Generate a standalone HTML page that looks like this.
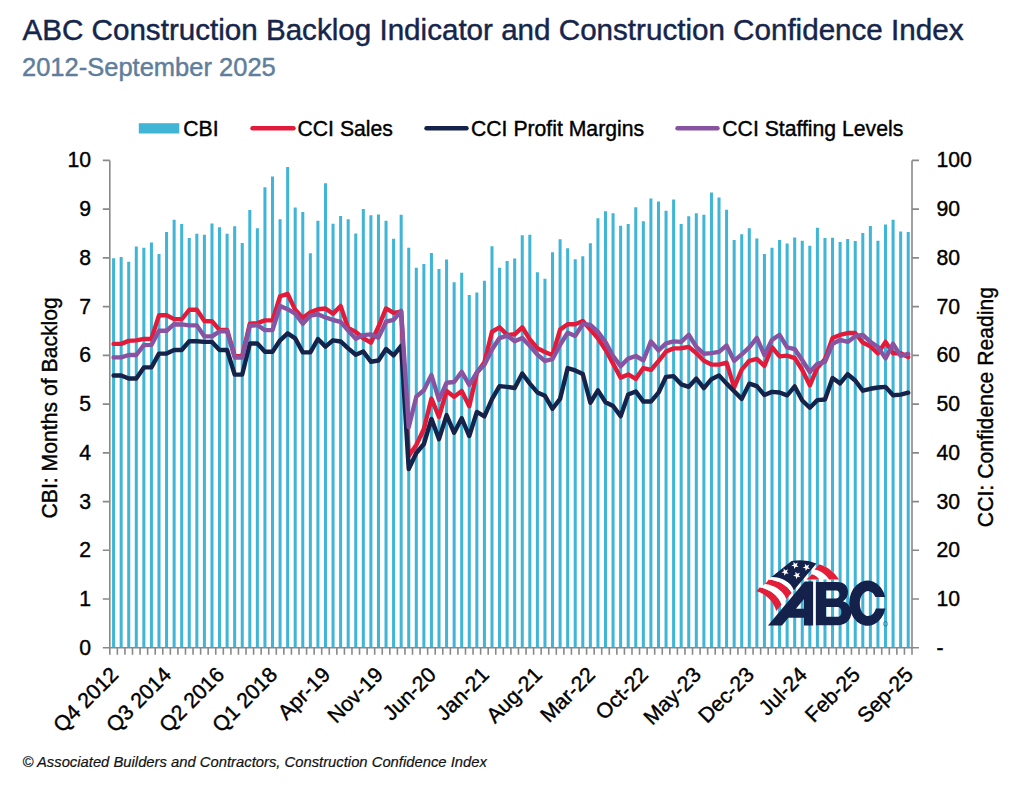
<!DOCTYPE html><html><head><meta charset="utf-8"><style>html,body{margin:0;padding:0;background:#fff;}svg{display:block;}text{font-family:"Liberation Sans",sans-serif;paint-order:stroke;stroke-linejoin:round;}</style></head><body>
<svg width="1024" height="791" viewBox="0 0 1024 791">
<rect width="1024" height="791" fill="#fff"/>
<text x="22.5" y="40" font-size="29.6" fill="#15254B" stroke="#15254B" stroke-width="0.45">ABC Construction Backlog Indicator and Construction Confidence Index</text>
<text x="22" y="75.7" font-size="25.5" fill="#5F7E9C" stroke="#5F7E9C" stroke-width="0.45">2012-September 2025</text>
<rect x="138.8" y="123.2" width="40.5" height="10.3" fill="#40B5D6"/>
<text x="183.3" y="136.1" font-size="21.2" fill="#000" stroke="#000" stroke-width="0.4">CBI</text>
<line x1="252.5" y1="128.3" x2="293.5" y2="128.3" stroke="#E31B3B" stroke-width="4.4" stroke-linecap="round"/>
<text x="297.5" y="136.1" font-size="21.2" fill="#000" stroke="#000" stroke-width="0.4">CCI Sales</text>
<line x1="426.5" y1="128.3" x2="466.5" y2="128.3" stroke="#15234A" stroke-width="4.4" stroke-linecap="round"/>
<text x="471" y="136.1" font-size="21.2" fill="#000" stroke="#000" stroke-width="0.4">CCI Profit Margins</text>
<line x1="677.5" y1="128.3" x2="717.5" y2="128.3" stroke="#8853A1" stroke-width="4.4" stroke-linecap="round"/>
<text x="722.3" y="136.1" font-size="21.2" fill="#000" stroke="#000" stroke-width="0.4">CCI Staffing Levels</text>
<path d="M112.07 258.19h3.03V647.8h-3.03ZM119.64 257.02h3.03V647.8h-3.03ZM127.21 261.69h3.03V647.8h-3.03ZM134.77 246.5h3.03V647.8h-3.03ZM142.34 247.67h3.03V647.8h-3.03ZM149.91 242.61h3.03V647.8h-3.03ZM157.48 253.9h3.03V647.8h-3.03ZM165.05 231.9h3.03V647.8h-3.03ZM172.61 219.64h3.03V647.8h-3.03ZM180.18 224.12h3.03V647.8h-3.03ZM187.75 237.94h3.03V647.8h-3.03ZM195.32 233.85h3.03V647.8h-3.03ZM202.89 234.82h3.03V647.8h-3.03ZM210.45 223.53h3.03V647.8h-3.03ZM218.02 227.23h3.03V647.8h-3.03ZM225.59 233.85h3.03V647.8h-3.03ZM233.16 226.26h3.03V647.8h-3.03ZM240.73 243h3.03V647.8h-3.03ZM248.29 210.1h3.03V647.8h-3.03ZM255.86 228.2h3.03V647.8h-3.03ZM263.43 187.32h3.03V647.8h-3.03ZM271 176.61h3.03V647.8h-3.03ZM278.56 219.25h3.03V647.8h-3.03ZM286.13 167.07h3.03V647.8h-3.03ZM293.7 207.57h3.03V647.8h-3.03ZM301.27 212.04h3.03V647.8h-3.03ZM308.84 253.32h3.03V647.8h-3.03ZM316.4 220.81h3.03V647.8h-3.03ZM323.97 183.23h3.03V647.8h-3.03ZM331.54 223.73h3.03V647.8h-3.03ZM339.11 215.94h3.03V647.8h-3.03ZM346.68 219.25h3.03V647.8h-3.03ZM354.24 233.46h3.03V647.8h-3.03ZM361.81 209.12h3.03V647.8h-3.03ZM369.38 215.35h3.03V647.8h-3.03ZM376.95 214.38h3.03V647.8h-3.03ZM384.52 220.81h3.03V647.8h-3.03ZM392.08 238.72h3.03V647.8h-3.03ZM399.65 214.77h3.03V647.8h-3.03ZM407.22 247.87h3.03V647.8h-3.03ZM414.79 267.7h3.03V647.8h-3.03ZM422.36 264.06h3.03V647.8h-3.03ZM429.92 252.93h3.03V647.8h-3.03ZM437.49 269.12h3.03V647.8h-3.03ZM445.06 259.41h3.03V647.8h-3.03ZM452.63 282.26h3.03V647.8h-3.03ZM460.19 272.76h3.03V647.8h-3.03ZM467.76 295.01h3.03V647.8h-3.03ZM475.33 292.38h3.03V647.8h-3.03ZM482.9 280.85h3.03V647.8h-3.03ZM490.47 246.26h3.03V647.8h-3.03ZM498.03 267.7h3.03V647.8h-3.03ZM505.6 261.02h3.03V647.8h-3.03ZM513.17 258.39h3.03V647.8h-3.03ZM520.74 235.13h3.03V647.8h-3.03ZM528.31 234.73h3.03V647.8h-3.03ZM535.87 272.15h3.03V647.8h-3.03ZM543.44 278.82h3.03V647.8h-3.03ZM551.01 252.33h3.03V647.8h-3.03ZM558.58 239.18h3.03V647.8h-3.03ZM566.15 248.16h3.03V647.8h-3.03ZM573.71 259.17h3.03V647.8h-3.03ZM581.28 256.14h3.03V647.8h-3.03ZM588.85 243.19h3.03V647.8h-3.03ZM596.42 218.31h3.03V647.8h-3.03ZM603.99 211.23h3.03V647.8h-3.03ZM611.55 213.26h3.03V647.8h-3.03ZM619.12 225.8h3.03V647.8h-3.03ZM626.69 223.98h3.03V647.8h-3.03ZM634.26 207.19h3.03V647.8h-3.03ZM641.83 221.14h3.03V647.8h-3.03ZM649.39 198.49h3.03V647.8h-3.03ZM656.96 201.52h3.03V647.8h-3.03ZM664.53 210.63h3.03V647.8h-3.03ZM672.1 199.5h3.03V647.8h-3.03ZM679.66 223.98h3.03V647.8h-3.03ZM687.23 216.29h3.03V647.8h-3.03ZM694.8 213.26h3.03V647.8h-3.03ZM702.37 214.87h3.03V647.8h-3.03ZM709.94 192.42h3.03V647.8h-3.03ZM717.5 197.48h3.03V647.8h-3.03ZM725.07 209.74h3.03V647.8h-3.03ZM732.64 239.96h3.03V647.8h-3.03ZM740.21 234.37h3.03V647.8h-3.03ZM747.78 228.3h3.03V647.8h-3.03ZM755.34 238.5h3.03V647.8h-3.03ZM762.91 254.03h3.03V647.8h-3.03ZM770.48 247.72h3.03V647.8h-3.03ZM778.05 239.96h3.03V647.8h-3.03ZM785.62 243.6h3.03V647.8h-3.03ZM793.18 237.53h3.03V647.8h-3.03ZM800.75 240.68h3.03V647.8h-3.03ZM808.32 245.78h3.03V647.8h-3.03ZM815.89 227.82h3.03V647.8h-3.03ZM823.46 238.01h3.03V647.8h-3.03ZM831.02 237.77h3.03V647.8h-3.03ZM838.59 241.9h3.03V647.8h-3.03ZM846.16 238.98h3.03V647.8h-3.03ZM853.73 240.93h3.03V647.8h-3.03ZM861.29 232.92h3.03V647.8h-3.03ZM868.86 225.88h3.03V647.8h-3.03ZM876.43 240.68h3.03V647.8h-3.03ZM884 224.42h3.03V647.8h-3.03ZM891.57 219.81h3.03V647.8h-3.03ZM899.13 231.46h3.03V647.8h-3.03ZM906.7 231.95h3.03V647.8h-3.03Z" fill="#40B5D6"/>
<path d="M109.8 160.4V647.8M912.0 160.4V647.8M102.8 647.8H919.0M102.8 647.8H109.8M912.0 647.8H919.0M102.8 599.06H109.8M912.0 599.06H919.0M102.8 550.32H109.8M912.0 550.32H919.0M102.8 501.58H109.8M912.0 501.58H919.0M102.8 452.84H109.8M912.0 452.84H919.0M102.8 404.1H109.8M912.0 404.1H919.0M102.8 355.36H109.8M912.0 355.36H919.0M102.8 306.62H109.8M912.0 306.62H919.0M102.8 257.88H109.8M912.0 257.88H919.0M102.8 209.14H109.8M912.0 209.14H919.0M102.8 160.4H109.8M912.0 160.4H919.0M109.8 647.8V654.8M117.37 647.8V654.8M124.94 647.8V654.8M132.5 647.8V654.8M140.07 647.8V654.8M147.64 647.8V654.8M155.21 647.8V654.8M162.78 647.8V654.8M170.34 647.8V654.8M177.91 647.8V654.8M185.48 647.8V654.8M193.05 647.8V654.8M200.62 647.8V654.8M208.18 647.8V654.8M215.75 647.8V654.8M223.32 647.8V654.8M230.89 647.8V654.8M238.45 647.8V654.8M246.02 647.8V654.8M253.59 647.8V654.8M261.16 647.8V654.8M268.73 647.8V654.8M276.29 647.8V654.8M283.86 647.8V654.8M291.43 647.8V654.8M299 647.8V654.8M306.57 647.8V654.8M314.13 647.8V654.8M321.7 647.8V654.8M329.27 647.8V654.8M336.84 647.8V654.8M344.41 647.8V654.8M351.97 647.8V654.8M359.54 647.8V654.8M367.11 647.8V654.8M374.68 647.8V654.8M382.25 647.8V654.8M389.81 647.8V654.8M397.38 647.8V654.8M404.95 647.8V654.8M412.52 647.8V654.8M420.08 647.8V654.8M427.65 647.8V654.8M435.22 647.8V654.8M442.79 647.8V654.8M450.36 647.8V654.8M457.92 647.8V654.8M465.49 647.8V654.8M473.06 647.8V654.8M480.63 647.8V654.8M488.2 647.8V654.8M495.76 647.8V654.8M503.33 647.8V654.8M510.9 647.8V654.8M518.47 647.8V654.8M526.04 647.8V654.8M533.6 647.8V654.8M541.17 647.8V654.8M548.74 647.8V654.8M556.31 647.8V654.8M563.88 647.8V654.8M571.44 647.8V654.8M579.01 647.8V654.8M586.58 647.8V654.8M594.15 647.8V654.8M601.72 647.8V654.8M609.28 647.8V654.8M616.85 647.8V654.8M624.42 647.8V654.8M631.99 647.8V654.8M639.55 647.8V654.8M647.12 647.8V654.8M654.69 647.8V654.8M662.26 647.8V654.8M669.83 647.8V654.8M677.39 647.8V654.8M684.96 647.8V654.8M692.53 647.8V654.8M700.1 647.8V654.8M707.67 647.8V654.8M715.23 647.8V654.8M722.8 647.8V654.8M730.37 647.8V654.8M737.94 647.8V654.8M745.51 647.8V654.8M753.07 647.8V654.8M760.64 647.8V654.8M768.21 647.8V654.8M775.78 647.8V654.8M783.35 647.8V654.8M790.91 647.8V654.8M798.48 647.8V654.8M806.05 647.8V654.8M813.62 647.8V654.8M821.18 647.8V654.8M828.75 647.8V654.8M836.32 647.8V654.8M843.89 647.8V654.8M851.46 647.8V654.8M859.02 647.8V654.8M866.59 647.8V654.8M874.16 647.8V654.8M881.73 647.8V654.8M889.3 647.8V654.8M896.86 647.8V654.8M904.43 647.8V654.8M912 647.8V654.8" stroke="#898989" stroke-width="1.6" fill="none"/>
<text x="91" y="654.8" font-size="21.2" text-anchor="end" fill="#000" stroke="#000" stroke-width="0.4">0</text>
<text x="936.5" y="654.8" font-size="21.2" fill="#000" stroke="#000" stroke-width="0.4">-</text>
<text x="91" y="606.06" font-size="21.2" text-anchor="end" fill="#000" stroke="#000" stroke-width="0.4">1</text>
<text x="936.5" y="606.06" font-size="21.2" fill="#000" stroke="#000" stroke-width="0.4">10</text>
<text x="91" y="557.32" font-size="21.2" text-anchor="end" fill="#000" stroke="#000" stroke-width="0.4">2</text>
<text x="936.5" y="557.32" font-size="21.2" fill="#000" stroke="#000" stroke-width="0.4">20</text>
<text x="91" y="508.58" font-size="21.2" text-anchor="end" fill="#000" stroke="#000" stroke-width="0.4">3</text>
<text x="936.5" y="508.58" font-size="21.2" fill="#000" stroke="#000" stroke-width="0.4">30</text>
<text x="91" y="459.84" font-size="21.2" text-anchor="end" fill="#000" stroke="#000" stroke-width="0.4">4</text>
<text x="936.5" y="459.84" font-size="21.2" fill="#000" stroke="#000" stroke-width="0.4">40</text>
<text x="91" y="411.1" font-size="21.2" text-anchor="end" fill="#000" stroke="#000" stroke-width="0.4">5</text>
<text x="936.5" y="411.1" font-size="21.2" fill="#000" stroke="#000" stroke-width="0.4">50</text>
<text x="91" y="362.36" font-size="21.2" text-anchor="end" fill="#000" stroke="#000" stroke-width="0.4">6</text>
<text x="936.5" y="362.36" font-size="21.2" fill="#000" stroke="#000" stroke-width="0.4">60</text>
<text x="91" y="313.62" font-size="21.2" text-anchor="end" fill="#000" stroke="#000" stroke-width="0.4">7</text>
<text x="936.5" y="313.62" font-size="21.2" fill="#000" stroke="#000" stroke-width="0.4">70</text>
<text x="91" y="264.88" font-size="21.2" text-anchor="end" fill="#000" stroke="#000" stroke-width="0.4">8</text>
<text x="936.5" y="264.88" font-size="21.2" fill="#000" stroke="#000" stroke-width="0.4">80</text>
<text x="91" y="216.14" font-size="21.2" text-anchor="end" fill="#000" stroke="#000" stroke-width="0.4">9</text>
<text x="936.5" y="216.14" font-size="21.2" fill="#000" stroke="#000" stroke-width="0.4">90</text>
<text x="91" y="167.4" font-size="21.2" text-anchor="end" fill="#000" stroke="#000" stroke-width="0.4">10</text>
<text x="936.5" y="167.4" font-size="21.2" fill="#000" stroke="#000" stroke-width="0.4">100</text>
<text transform="translate(57,407.8) rotate(-90)" font-size="21.2" text-anchor="middle" fill="#000" stroke="#000" stroke-width="0.4">CBI: Months of Backlog</text>
<text transform="translate(993,407) rotate(-90)" font-size="21.2" text-anchor="middle" fill="#000" stroke="#000" stroke-width="0.4">CCI: Confidence Reading</text>
<text transform="translate(119.58,676) rotate(-45)" font-size="21.2" text-anchor="end" fill="#000" stroke="#000" stroke-width="0.4">Q4 2012</text>
<text transform="translate(172.56,676) rotate(-45)" font-size="21.2" text-anchor="end" fill="#000" stroke="#000" stroke-width="0.4">Q3 2014</text>
<text transform="translate(225.53,676) rotate(-45)" font-size="21.2" text-anchor="end" fill="#000" stroke="#000" stroke-width="0.4">Q2 2016</text>
<text transform="translate(278.51,676) rotate(-45)" font-size="21.2" text-anchor="end" fill="#000" stroke="#000" stroke-width="0.4">Q1 2018</text>
<text transform="translate(331.49,676) rotate(-45)" font-size="21.2" text-anchor="end" fill="#000" stroke="#000" stroke-width="0.4">Apr-19</text>
<text transform="translate(384.46,676) rotate(-45)" font-size="21.2" text-anchor="end" fill="#000" stroke="#000" stroke-width="0.4">Nov-19</text>
<text transform="translate(437.44,676) rotate(-45)" font-size="21.2" text-anchor="end" fill="#000" stroke="#000" stroke-width="0.4">Jun-20</text>
<text transform="translate(490.41,676) rotate(-45)" font-size="21.2" text-anchor="end" fill="#000" stroke="#000" stroke-width="0.4">Jan-21</text>
<text transform="translate(543.39,676) rotate(-45)" font-size="21.2" text-anchor="end" fill="#000" stroke="#000" stroke-width="0.4">Aug-21</text>
<text transform="translate(596.36,676) rotate(-45)" font-size="21.2" text-anchor="end" fill="#000" stroke="#000" stroke-width="0.4">Mar-22</text>
<text transform="translate(649.34,676) rotate(-45)" font-size="21.2" text-anchor="end" fill="#000" stroke="#000" stroke-width="0.4">Oct-22</text>
<text transform="translate(702.31,676) rotate(-45)" font-size="21.2" text-anchor="end" fill="#000" stroke="#000" stroke-width="0.4">May-23</text>
<text transform="translate(755.29,676) rotate(-45)" font-size="21.2" text-anchor="end" fill="#000" stroke="#000" stroke-width="0.4">Dec-23</text>
<text transform="translate(808.27,676) rotate(-45)" font-size="21.2" text-anchor="end" fill="#000" stroke="#000" stroke-width="0.4">Jul-24</text>
<text transform="translate(861.24,676) rotate(-45)" font-size="21.2" text-anchor="end" fill="#000" stroke="#000" stroke-width="0.4">Feb-25</text>
<text transform="translate(914.22,676) rotate(-45)" font-size="21.2" text-anchor="end" fill="#000" stroke="#000" stroke-width="0.4">Sep-25</text>
<polyline points="113.58,343.89 121.15,343.89 128.72,340.91 136.29,340.34 143.86,338.95 151.42,338.69 158.99,315.32 166.56,315.32 174.13,319.12 181.7,319.25 189.26,309.76 196.83,309.76 204.4,320.93 211.97,321.18 219.53,329.94 227.1,329.94 234.67,356.17 242.24,356.17 249.81,323.8 257.37,323.16 264.94,320.37 272.51,320.37 280.08,296.25 287.65,293.96 295.21,309.83 302.78,318.09 310.35,312.37 317.92,309.2 325.49,308.56 333.05,313.64 340.62,305.95 348.19,328.09 355.76,331.89 363.33,338.24 370.89,342.69 378.46,326.82 386.03,308.41 393.6,312.85 401.17,311.58 408.73,456 416.3,445 423.87,429 431.44,398.56 439,416.97 446.57,390.95 454.14,396.66 461.71,390.95 469.28,406.18 476.84,373 484.41,362.21 491.98,331.74 499.55,327.29 507.12,334.91 514.68,334.28 522.25,327.29 529.82,339.36 537.39,348.24 544.96,352.05 552.52,355.22 560.09,329.59 567.66,324.2 575.23,324.2 582.8,321.03 590.36,329.59 597.93,338.24 605.5,349.67 613.07,363.63 620.63,377.6 628.2,374.42 635.77,378.87 643.34,368.08 650.91,369.98 658.47,361.09 666.04,351.57 673.61,348.4 681.18,348.24 688.75,346.82 696.31,353.16 703.88,360.78 711.45,364.59 719.02,364.59 726.59,362.69 734.15,387.44 741.72,369.67 749.29,360.78 756.86,358.88 764.43,365.86 771.99,347.26 779.56,356.32 787.13,355.63 794.7,358.03 802.27,370 809.83,385.33 817.4,367.68 824.97,359.32 832.54,338.09 840.1,334.91 847.67,333.01 855.24,333.01 862.81,342.53 870.38,346.34 877.94,353.32 885.51,341.89 893.08,353.32 900.65,353.32 908.22,357.13" fill="none" stroke="#E31B3B" stroke-width="4.4" stroke-linejoin="round" stroke-linecap="round"/>
<polyline points="113.58,375.43 121.15,375.43 128.72,378.54 136.29,378.54 143.86,367.39 151.42,367.39 158.99,353.58 166.56,353.58 174.13,349.97 181.7,349.97 189.26,341.24 196.83,341.24 204.4,341.88 211.97,341.88 219.53,349.98 227.1,349.98 234.67,374.54 242.24,374.58 249.81,343.48 257.37,343.48 264.94,351.73 272.51,351.73 280.08,340.3 287.65,333.32 295.21,338.4 302.78,352.36 310.35,352.36 317.92,339.03 325.49,346.65 333.05,340.3 340.62,341.49 348.19,348.4 355.76,354.75 363.33,351.57 370.89,361.73 378.46,360.46 386.03,349.03 393.6,355.38 401.17,345.86 408.73,469 416.3,453 423.87,444 431.44,418.88 439,439.19 446.57,415.07 454.14,432.84 461.71,418.24 469.28,436.02 476.84,411.89 484.41,416.34 491.98,399.2 499.55,386.1 507.12,386.87 514.68,388.02 522.25,373.5 529.82,383.64 537.39,392.38 544.96,395.8 552.52,408.77 560.09,398.85 567.66,368.1 575.23,370.42 582.8,373.97 590.36,402.77 597.93,390.36 605.5,402.21 613.07,406.02 620.63,416.17 628.2,394.59 635.77,391.42 643.34,401.57 650.91,401.57 658.47,392.69 666.04,376.82 673.61,376.18 681.18,384.35 688.75,386.81 696.31,378.55 703.88,388.08 711.45,379.19 719.02,375.38 726.59,383.63 734.15,391.25 741.72,398.87 749.29,383.63 756.86,386.17 764.43,395.06 771.99,391.89 779.56,392.46 787.13,395.34 794.7,386.42 802.27,400.46 809.83,407.76 817.4,400.15 824.97,399.51 832.54,378 840.1,383.4 847.67,374.19 855.24,380.54 862.81,390.7 870.38,388.79 877.94,387.52 885.51,386.89 893.08,395.21 900.65,394.58 908.22,392.68" fill="none" stroke="#15234A" stroke-width="4.4" stroke-linejoin="round" stroke-linecap="round"/>
<polyline points="113.58,357.4 121.15,357.4 128.72,354.97 136.29,354.97 143.86,345.09 151.42,344.84 158.99,330.78 166.56,330.78 174.13,324.19 181.7,324.44 189.26,325.37 196.83,325.37 204.4,336.42 211.97,336.42 219.53,331.38 227.1,331.06 234.67,357.44 242.24,357.44 249.81,325.7 257.37,325.07 264.94,330.15 272.51,330.15 280.08,306.03 287.65,309.2 295.21,313.64 302.78,323.8 310.35,315.55 317.92,314.28 325.49,317.45 333.05,319.99 340.62,321.82 348.19,330.62 355.76,338.88 363.33,335.07 370.89,334.43 378.46,337.61 386.03,321.74 393.6,319.83 401.17,310.95 408.73,427.13 416.3,396.66 423.87,390.31 431.44,375.08 439,399.83 446.57,382.7 454.14,382.06 461.71,371.9 469.28,384.83 476.84,372.36 484.41,364.75 491.98,349.51 499.55,338.09 507.12,335.55 514.68,341.26 522.25,338.09 529.82,345.7 537.39,354.59 544.96,360.94 552.52,359.03 560.09,344.83 567.66,332.77 575.23,335.94 582.8,323.88 590.36,324.83 597.93,331.89 605.5,342.05 613.07,356.02 620.63,366.17 628.2,358.55 635.77,356.02 643.34,360.46 650.91,341.42 658.47,350.3 666.04,343.32 673.61,341.42 681.18,341.89 688.75,334.76 696.31,346.82 703.88,353.8 711.45,353.16 719.02,351.89 726.59,345.55 734.15,360.78 741.72,354.43 749.29,347.45 756.86,337.93 764.43,355.07 771.99,339.83 779.56,334.76 787.13,347.39 794.7,349.1 802.27,360.31 809.83,371.93 817.4,363.87 824.97,361.97 832.54,343.8 840.1,339.99 847.67,341.89 855.24,336.18 862.81,334.91 870.38,341.89 877.94,346.97 885.51,358.4 893.08,343.8 900.65,355.86 908.22,353.96" fill="none" stroke="#8853A1" stroke-width="4.4" stroke-linejoin="round" stroke-linecap="round"/>
<path d="M767.97,625.39 L804.77,581.38 L813.11,581.38 L813.11,625.39 L804.0,625.39 L804.0,617.8 L788.4,617.8 L782.0,625.39 Z M795.96,608.69 L804.0,599.06 L804.0,608.69 Z M815.9,582 L837,582 C845,582 848,587 848,591.8 C848,596 846,599.5 843,601.2 C848.5,603 851.3,607.5 851.3,612.5 C851.3,620 845.5,625.2 837.5,625.2 L815.9,625.2 Z M826,590.6 L836,590.6 C838.5,590.6 839.6,592.4 839.6,594.5 C839.6,596.6 838.5,598.4 836,598.4 L826,598.4 Z M826,607 L837.5,607 C840.2,607 841.3,609.5 841.3,611.9 C841.3,614.4 840.2,616.8 837.5,616.8 L826,616.8 Z" fill="#13214B" fill-rule="evenodd"/><path d="M885.2,596.9 A18.4,22.6 0 1 0 885.4,608.6 L875.9,608.6 A8.4,12.5 0 1 1 875.3,596.9 Z" fill="#13214B"/><circle cx="885.5" cy="623.8" r="2.2" fill="none" stroke="#13214B" stroke-width="0.6" opacity="0.7"/><g transform="translate(752,556) scale(0.087889)"><path d="M50,401 C143,425 240,500 276.5,624.5 L337,553 C300,440 180,368 89.2,355.7 Z" fill="#E41E38"/><path d="M89.2,355.7 C180,368 300,440 337,553 L391.3,489 C350,390 250,330 149.6,319.4 Z" fill="#fff"/><path d="M149.6,319.4 C250,330 350,390 391.3,489 L451.7,418 C400,330 300,280 192,268 Z" fill="#E41E38"/><path d="M192,268 C300,280 400,330 451.7,418 L476,389 C440,290 330,236 222.2,237.8 Z" fill="#fff"/><path d="M222.2,237.8 C330,236 440,290 476,389 L733,85 Q600,30 450,58 Z" fill="#13214B"/><polygon points="471.4,65.1 493.5,86.9 522.2,75.0 508.3,102.7 528.5,126.3 497.8,121.7 481.6,148.2 476.5,117.6 446.3,110.4 473.8,96.0" fill="#fff"/><polygon points="601.4,88.1 623.5,109.9 652.2,98.0 638.3,125.7 658.5,149.3 627.8,144.7 611.6,171.2 606.5,140.6 576.3,133.4 603.8,119.0" fill="#fff"/><polygon points="359.4,142.1 381.5,163.9 410.2,152.0 396.3,179.7 416.5,203.3 385.8,198.7 369.6,225.2 364.5,194.6 334.3,187.4 361.8,173.0" fill="#fff"/><polygon points="493.4,180.1 515.5,201.9 544.2,190.0 530.3,217.7 550.5,241.3 519.8,236.7 503.6,263.2 498.5,232.6 468.3,225.4 495.8,211.0" fill="#fff"/><path d="M619.4,268 L761.2,94.4 C829.7,109.1 927.5,167.7 991.1,268 Z" fill="#fff"/><path d="M712.3,153.1 L761.2,94.4 C829.7,109.1 927.5,167.7 991.1,268 L878.6,268 C839.5,206.9 780.8,167.7 712.3,153.1 Z" fill="#E41E38"/><path d="M619.4,268 L678.1,206.9 C717.2,216.6 751.5,241.1 766.1,268 Z" fill="#E41E38"/></g>
<text x="22.5" y="767.3" font-size="14.8" font-style="italic" fill="#111" stroke="#111" stroke-width="0.2">© Associated Builders and Contractors, Construction Confidence Index</text>
</svg></body></html>
